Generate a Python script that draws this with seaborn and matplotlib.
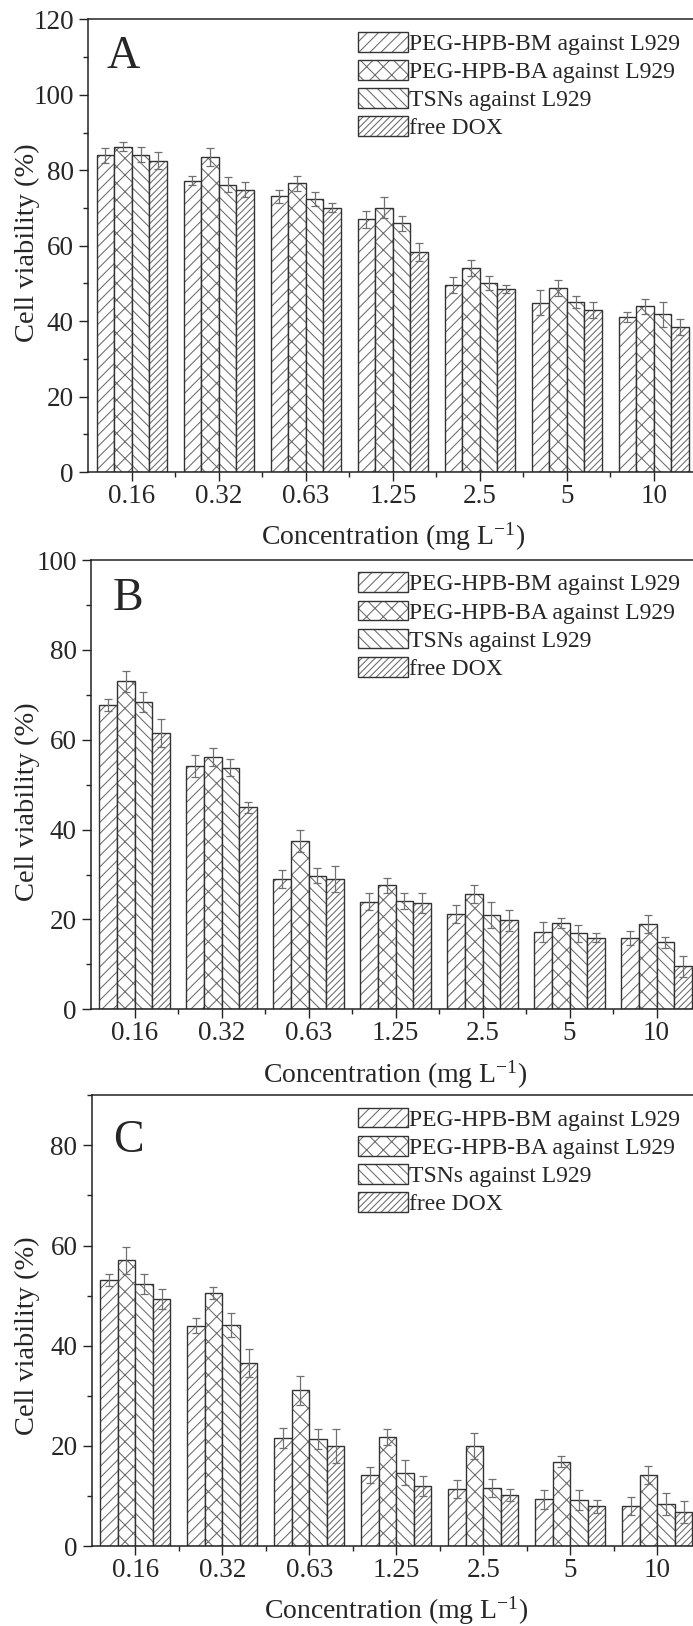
import matplotlib
matplotlib.use("Agg")
import numpy as np
import pandas as pd
import matplotlib.pyplot as plt
import seaborn as sns
from matplotlib.ticker import MultipleLocator, FixedLocator
from matplotlib.colors import to_rgba
from matplotlib.container import BarContainer

# ---------------- data ----------------
conc = ['0.16', '0.32', '0.63', '1.25', '2.5', '5', '10']
series = ['PEG-HPB-BM against L929', 'PEG-HPB-BA against L929',
          'TSNs against L929', 'free DOX']

# Panel A
a_bm = [84.0, 77.3, 73.1, 67.0, 49.7, 44.9, 41.1]
a_ba = [86.3, 83.5, 76.6, 70.1, 54.1, 48.9, 43.9]
a_tsn = [84.1, 76.2, 72.4, 66.0, 50.1, 45.1, 41.8]
a_dox = [82.6, 74.8, 70.1, 58.3, 48.6, 43.0, 38.4]
a_bm_err = [2.0, 1.3, 1.8, 2.2, 2.1, 3.3, 1.3]
a_ba_err = [1.2, 2.3, 2.0, 2.8, 2.1, 2.1, 2.0]
a_tsn_err = [2.0, 2.0, 1.8, 2.0, 1.8, 1.7, 3.3]
a_dox_err = [2.2, 2.0, 1.2, 2.4, 1.1, 2.1, 2.2]

# Panel B
b_bm = [67.8, 54.2, 29.0, 23.9, 21.3, 17.2, 15.8]
b_ba = [73.0, 56.2, 37.5, 27.6, 25.7, 19.2, 18.9]
b_tsn = [68.4, 53.8, 29.7, 24.1, 21.0, 16.9, 14.9]
b_dox = [61.5, 45.0, 29.1, 23.6, 19.8, 15.9, 9.6]
b_bm_err = [1.3, 2.5, 2.0, 1.9, 2.0, 2.3, 1.6]
b_ba_err = [2.3, 2.0, 2.5, 1.7, 2.0, 1.1, 2.0]
b_tsn_err = [2.3, 1.9, 1.7, 1.7, 2.8, 1.9, 1.3]
b_dox_err = [3.1, 1.2, 2.9, 2.2, 2.3, 1.0, 2.3]

# Panel C
c_bm = [53.1, 44.0, 21.6, 14.1, 11.4, 9.3, 7.9]
c_ba = [57.1, 50.5, 31.1, 21.8, 20.0, 16.8, 14.1]
c_tsn = [52.3, 44.2, 21.4, 14.6, 11.5, 9.2, 8.3]
c_dox = [49.4, 36.6, 20.0, 11.9, 10.1, 7.9, 6.8]
c_bm_err = [1.2, 1.5, 2.0, 1.6, 1.8, 1.9, 1.8]
c_ba_err = [2.7, 1.2, 2.9, 1.6, 2.6, 1.1, 1.8]
c_tsn_err = [2.0, 2.4, 2.0, 2.5, 1.8, 2.0, 2.2]
c_dox_err = [2.0, 2.8, 3.4, 2.0, 1.2, 1.3, 2.2]

panels = [
    ('A', [a_bm, a_ba, a_tsn, a_dox], [a_bm_err, a_ba_err, a_tsn_err, a_dox_err], 120, 20),
    ('B', [b_bm, b_ba, b_tsn, b_dox], [b_bm_err, b_ba_err, b_tsn_err, b_dox_err], 100, 20),
    ('C', [c_bm, c_ba, c_tsn, c_dox], [c_bm_err, c_ba_err, c_tsn_err, c_dox_err], 90, 20),
]

# ---------------- style ----------------
sns.set_style('ticks')
plt.rcParams['font.family'] = ['Liberation Serif', 'DejaVu Serif']
plt.rcParams['mathtext.fontset'] = 'custom'
plt.rcParams['mathtext.rm'] = 'Liberation Serif'
plt.rcParams['mathtext.it'] = 'Liberation Serif:italic'
plt.rcParams['mathtext.bf'] = 'Liberation Serif:bold'
plt.rcParams['hatch.linewidth'] = 0.75

W, H = 693, 1626
fig = plt.figure(figsize=(W / 100, H / 100), dpi=100)

# axes boxes in pixels: (left, top, bottom)
boxes = [(88.3, 19.5, 472.0), (91.0, 560.0, 1009.3), (91.7, 1095.3, 1546.0)]
AX_W = 609.0
ylabel_y = [243, 802, 1336]
letter_pos = [(107, 68), (112.7, 610), (113, 1152)]
xlabel_base = [545, 1083, 1619]

hatches = ['///', 'xx', '\\\\\\', '/////']
edge_col = '#333333'
hatch_col = '#6a6a6a'

for (letter, vals, errs, ymax, ystep), (L, T, B), yly, (lx, lby), xlb in zip(
        panels, boxes, ylabel_y, letter_pos, xlabel_base):
    ax = fig.add_axes([L / W, 1 - B / H, AX_W / W, (B - T) / H])
    hpx = B - T

    df = pd.DataFrame({
        'conc': np.tile(conc, len(series)),
        'series': np.repeat(series, len(conc)),
        'value': np.concatenate(vals),
    })
    sns.barplot(data=df, x='conc', y='value', hue='series', order=conc,
                hue_order=series, palette=['white'] * 4, saturation=1,
                edgecolor=edge_col, linewidth=1.0, width=0.81,
                errorbar=None, legend=False, ax=ax)

    bar_conts = [c for c in ax.containers if isinstance(c, BarContainer)]
    for cont, hatch, err in zip(bar_conts, hatches, errs):
        for p in cont.patches:
            p.set_hatch(hatch)
            p.set_edgecolor(edge_col)
            if hasattr(p, 'set_hatchcolor'):
                p.set_hatchcolor(hatch_col)
            else:
                p._hatch_color = to_rgba(hatch_col)
        xs = [p.get_x() + p.get_width() / 2 for p in cont.patches]
        ys = [p.get_height() for p in cont.patches]
        ax.errorbar(xs, ys, yerr=err, fmt='none', ecolor='#707070',
                    elinewidth=0.9, capsize=3.2, capthick=0.9, zorder=4)

    ax.set_xlim(-0.5, 6.5)
    ax.set_ylim(0, ymax)
    ax.yaxis.set_major_locator(MultipleLocator(ystep))
    ax.yaxis.set_minor_locator(MultipleLocator(ystep / 2))
    ax.xaxis.set_minor_locator(FixedLocator(np.arange(0.5, 6.6, 1.0)))

    for s in ['left', 'bottom', 'top', 'right']:
        ax.spines[s].set_linewidth(1.1)
        ax.spines[s].set_color('#222222')
    ax.tick_params(axis='both', which='major', direction='out', length=6.3,
                   width=1.0, color='#222222', labelsize=19.5, pad=4)
    ax.tick_params(axis='both', which='minor', direction='out', length=3.3,
                   width=1.0, color='#222222')
    ax.tick_params(axis='x', which='major', pad=2)
    ax.tick_params(top=False, right=False, which='both')

    ax.set_ylabel('Cell viability (%)', fontsize=20.5)
    ax.yaxis.set_label_coords((27 - L) / AX_W, (B - yly) / hpx)
    ax.yaxis.label.set_verticalalignment('center')

    ax.set_xlabel(r'Concentration (mg L$^{-1}$)', fontsize=20)
    ax.xaxis.set_label_coords(0.5, (B - xlb) / hpx)
    ax.xaxis.label.set_verticalalignment('baseline')

    ax.text((lx - L) / AX_W, (B - lby) / hpx, letter, transform=ax.transAxes,
            fontsize=33, ha='left', va='baseline')

    handles = [cont.patches[0] for cont in bar_conts]
    ax.legend(handles, series, loc='upper left',
              bbox_to_anchor=((358 - L) / AX_W, 1 - 12.5 / hpx),
              frameon=False, fontsize=17, borderpad=0, borderaxespad=0,
              handlelength=2.1, handleheight=0.9, handletextpad=0.08,
              labelspacing=0.22)

fig.savefig('out.png', dpi=100)
